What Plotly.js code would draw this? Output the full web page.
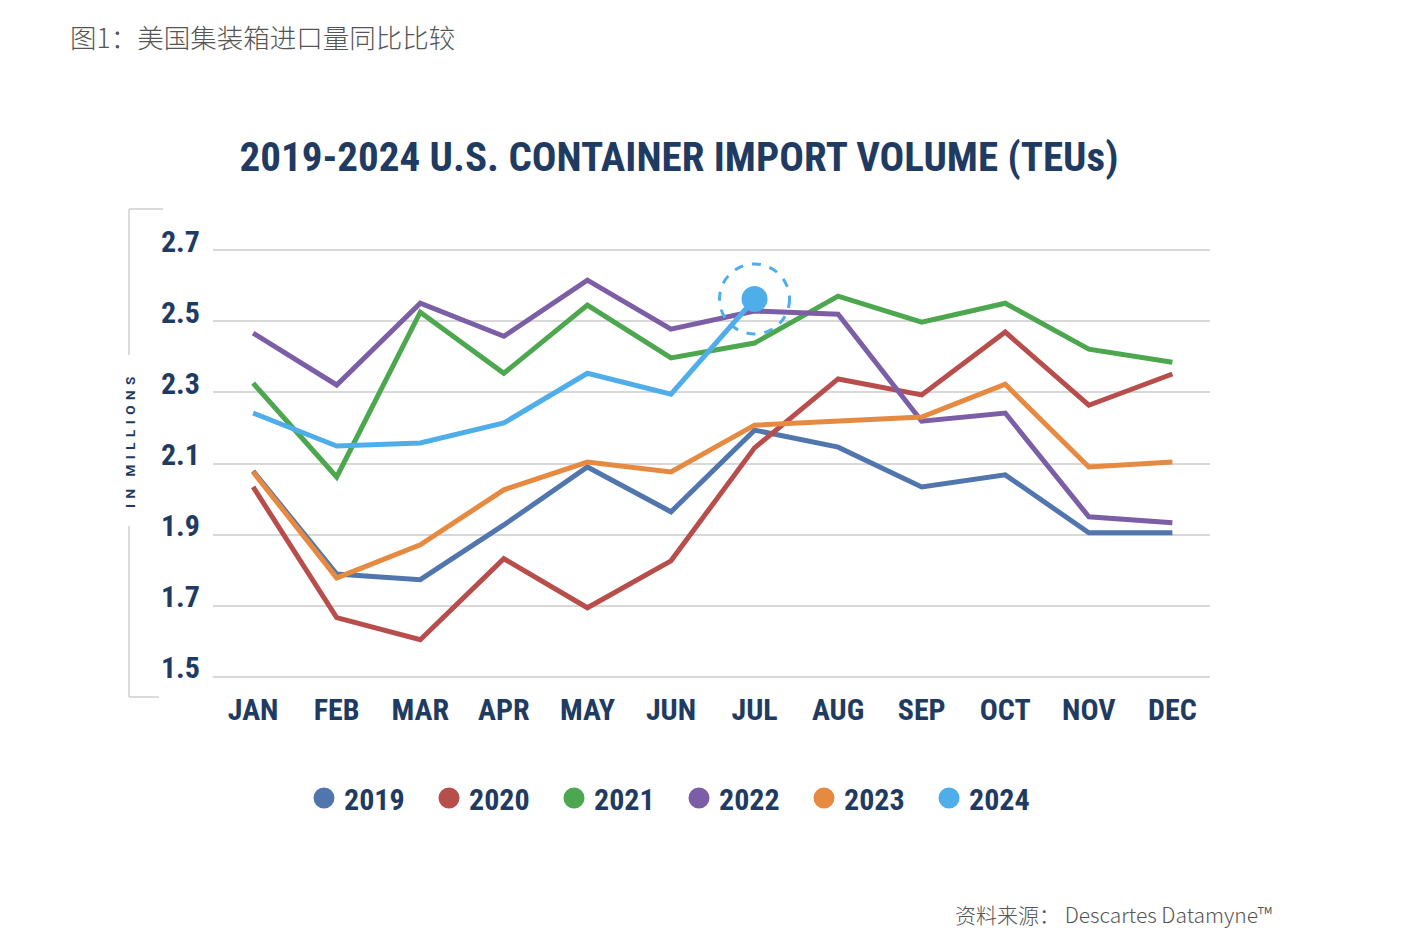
<!DOCTYPE html>
<html>
<head>
<meta charset="utf-8">
<script src="https://cdn.plot.ly/plotly-3.0.1.min.js"></script>
<style>
  html, body { margin: 0; padding: 0; background: #ffffff; }
  #chart { width: 1404px; height: 944px; }
  #chart .gtitle, #chart .xtick text, #chart .ytick text, #chart .legendtext { font-stretch: 75%; }
</style>
</head>
<body>
<div id="chart"></div>
<script>
// ---- data ----
const months = ["JAN","FEB","MAR","APR","MAY","JUN","JUL","AUG","SEP","OCT","NOV","DEC"];
const years = ["2019","2020","2021","2022","2023","2024"];
const v2019 = [2.079, 1.789, 1.773, 1.927, 2.090, 1.964, 2.194, 2.146, 2.034, 2.068, 1.905, 1.905];
const v2020 = [2.034, 1.666, 1.604, 1.832, 1.694, 1.826, 2.144, 2.338, 2.293, 2.470, 2.264, 2.352];
const v2021 = [2.326, 2.062, 2.526, 2.354, 2.546, 2.397, 2.439, 2.571, 2.498, 2.551, 2.422, 2.385];
const v2022 = [2.467, 2.321, 2.551, 2.458, 2.616, 2.478, 2.529, 2.520, 2.219, 2.242, 1.950, 1.933];
const v2023 = [2.076, 1.778, 1.871, 2.026, 2.104, 2.076, 2.208, 2.219, 2.231, 2.323, 2.090, 2.104];
const v2024 = [2.242, 2.149, 2.158, 2.214, 2.354, 2.295, 2.563];
const yTicks = [1.5, 1.7, 1.9, 2.1, 2.3, 2.5, 2.7];
const yTickText = ["1.5", "1.7", "1.9", "2.1", "2.3", "2.5", "2.7"];

// ---- styles ----
const series = [v2019, v2020, v2021, v2022, v2023, v2024];
const colors = ["#5076ad", "#b84e4c", "#4ca74f", "#7c5ea6", "#e68a41", "#4fadea"];
const navy = "#1f3b62";
const condensed = "Roboto, 'Liberation Sans', sans-serif";

const traces = [];
series.forEach((vals, i) => {
  traces.push({
    type: "scatter", mode: "lines",
    x: months.slice(0, vals.length), y: vals,
    line: { color: colors[i], width: 5 },
    showlegend: false, hoverinfo: "skip"
  });
});
// highlight latest 2024 value
const lastIdx = v2024.length - 1;
traces.push({
  type: "scatter", mode: "markers",
  x: [months[lastIdx]], y: [v2024[lastIdx]],
  marker: { color: colors[5], size: 26 },
  showlegend: false, hoverinfo: "skip"
});
// legend entries
years.forEach((yr, i) => {
  traces.push({
    type: "scatter", mode: "markers",
    x: [null], y: [null], name: yr,
    marker: { color: colors[i], size: 16, line: { color: colors[i], width: 5 } },
    showlegend: true, hoverinfo: "skip"
  });
});

// plot area in pixels
const L = 213, R = 1210, T = 245, B = 682;
const W = 1404, H = 944;
const px = (p) => (p - L) / (R - L);
const py = (p) => (B - p) / (B - T);
const bracket = { type: "line", xref: "paper", yref: "paper", line: { color: "#cfcfcf", width: 1.5 } };

const layout = {
  width: W, height: H,
  paper_bgcolor: "#ffffff", plot_bgcolor: "#ffffff",
  margin: { l: L, r: W - R, t: T, b: H - B, pad: 0 },
  font: { family: condensed, color: navy },
  title: {
    text: "2019-2024 U.S. CONTAINER IMPORT VOLUME (TEUs)",
    font: { family: condensed, size: 41, color: navy, weight: 700 },
    xref: "container", yref: "container",
    x: 679 / W, y: 1 - 157 / H, xanchor: "center", yanchor: "middle"
  },
  xaxis: {
    type: "category", categoryarray: months,
    range: [-0.48, 11.45],
    showgrid: false, zeroline: false, showline: false, ticks: "",
    tickfont: { family: condensed, size: 30, color: navy, weight: 700 },
    ticklabelstandoff: 7, fixedrange: true
  },
  yaxis: {
    range: [1.485, 2.715],
    tickvals: yTicks, ticktext: yTickText,
    showgrid: true, gridcolor: "#d8d8d8", gridwidth: 2,
    zeroline: false, showline: false, ticks: "",
    tickfont: { family: condensed, size: 30, color: navy, weight: 700 },
    ticklabelstandoff: 12, ticklabelshift: -9, fixedrange: true
  },
  showlegend: true,
  legend: {
    orientation: "h",
    x: px(679), xanchor: "center",
    y: py(798), yanchor: "middle",
    font: { family: condensed, size: 30, color: navy, weight: 700 },
    itemsizing: "trace", traceorder: "normal",
    entrywidth: 80, entrywidthmode: "pixels",
    bgcolor: "rgba(0,0,0,0)"
  },
  shapes: [
    {
      type: "circle", xref: "x", yref: "y",
      xsizemode: "pixel", ysizemode: "pixel",
      xanchor: months[lastIdx], yanchor: v2024[lastIdx],
      x0: -35, x1: 35, y0: -35, y1: 35,
      line: { color: colors[5], width: 3, dash: "dash" }
    },
    Object.assign({}, bracket, { x0: px(129), x1: px(129), y0: py(209), y1: py(355) }),
    Object.assign({}, bracket, { x0: px(129), x1: px(129), y0: py(526), y1: py(697) }),
    Object.assign({}, bracket, { x0: px(129), x1: px(163), y0: py(209), y1: py(209) }),
    Object.assign({}, bracket, { x0: px(129), x1: px(159), y0: py(697), y1: py(697) })
  ],
  annotations: [
    {
      text: "I\u2009\u2009N\u2002\u2009\u2009M\u2009\u2009I\u2009\u2009L\u2009\u2009L\u2009\u2009I\u2009\u2009O\u2009\u2009N\u2009\u2009S",
      xref: "paper", yref: "paper", x: px(130), y: py(443),
      xanchor: "center", yanchor: "middle", textangle: -90, showarrow: false,
      font: { family: "Roboto, 'DejaVu Sans', sans-serif", size: 13.5, color: navy, weight: 700 }
    },
    {
      text: "图1：美国集装箱进口量同比比较",
      xref: "paper", yref: "paper", x: px(68), y: py(36),
      xanchor: "left", yanchor: "middle", showarrow: false,
      font: { family: "'Noto Sans CJK SC', 'Noto Sans', sans-serif", size: 26.5, color: "#555555", weight: 300 }
    },
    {
      text: "资料来源： Descartes Datamyne™",
      xref: "paper", yref: "paper", x: px(1274), y: py(914),
      xanchor: "right", yanchor: "middle", showarrow: false,
      font: { family: "'Noto Sans CJK SC', 'Noto Sans', sans-serif", size: 21, color: "#555555", weight: 300 }
    }
  ]
};

Plotly.newPlot("chart", traces, layout, { staticPlot: true, displayModeBar: false });
</script>
</body>
</html>
